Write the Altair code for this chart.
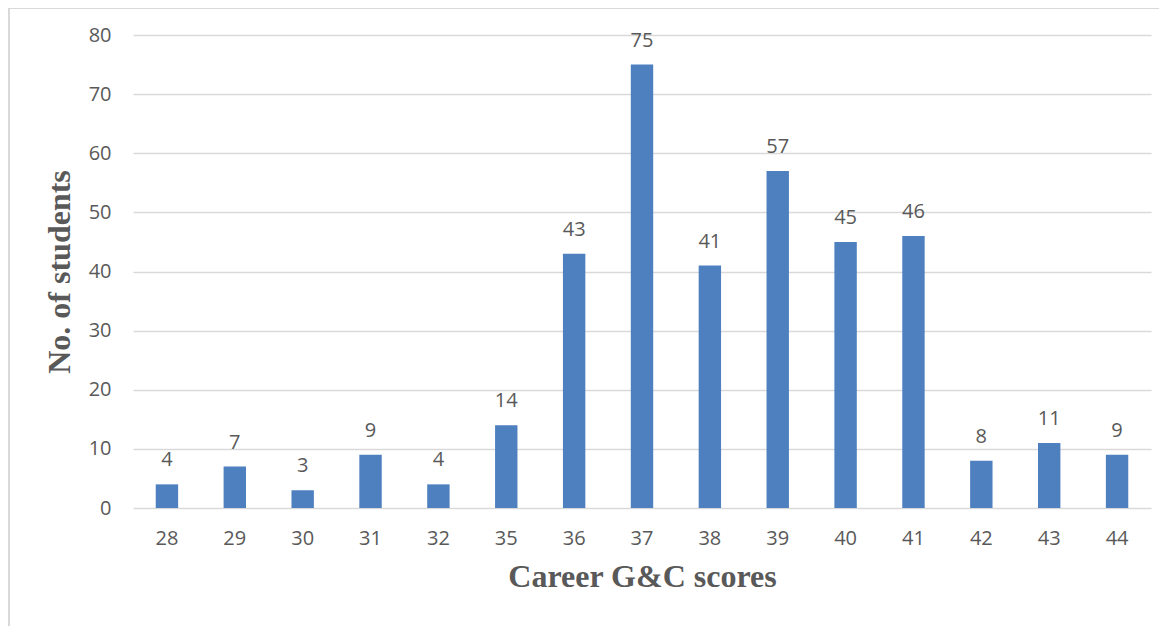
import altair as alt
import pandas as pd

scores = ["28", "29", "30", "31", "32", "35", "36", "37", "38", "39", "40", "41", "42", "43", "44"]
students = [4, 7, 3, 9, 4, 14, 43, 75, 41, 57, 45, 46, 8, 11, 9]

df = pd.DataFrame({"score": scores, "n": students})

W, H = 1018, 473
GRAY = "#595959"

base = alt.Chart(df).encode(
    x=alt.X("score:N", sort=scores, title="Career G&C scores",
            scale=alt.Scale(paddingInner=0.67, paddingOuter=0.335),
            axis=alt.Axis(labelAngle=0, domain=False, ticks=False, labelPadding=20,
                          labelFont="Open Sans", labelFontSize=20, labelColor=GRAY,
                          titleFont="Liberation Serif", titleFontSize=32, titleFontWeight="bold",
                          titleColor=GRAY, titlePadding=13)),
)

bars = base.mark_bar(color="#4e7fbf").encode(
    y=alt.Y("n:Q", title="No. of students",
            scale=alt.Scale(domain=[0, 80], nice=False),
            axis=alt.Axis(values=list(range(0, 81, 10)), domain=False, ticks=False,
                          labelPadding=22, grid=True, gridColor="#d9d9d9", gridWidth=1.6,
                          labelFont="Open Sans", labelFontSize=20, labelColor=GRAY,
                          titleFont="Liberation Serif", titleFontSize=32, titleFontWeight="bold",
                          titleColor=GRAY, titlePadding=12))
)

labels = base.mark_text(dy=-24, font="Open Sans", fontSize=20, color=GRAY).encode(
    y=alt.Y("n:Q"), text="n:Q"
)

border_left = alt.Chart(df).mark_rule(color="#d9d9d9", strokeWidth=2).encode(
    x=alt.value(-124), y=alt.value(-27), y2=alt.value(H + 140)
)
border_top = alt.Chart(df).mark_rule(color="#d9d9d9", strokeWidth=2).encode(
    x=alt.value(-124), x2=alt.value(W + 30), y=alt.value(-27)
)

chart = alt.layer(bars, labels, border_left, border_top).properties(
    width=W, height=H,
    padding={"left": 125, "top": 27, "right": 8, "bottom": 120},
    autosize=alt.AutoSizeParams(type="none"),
).configure_view(stroke=None)

chart.save("out.html", embed_options={"renderer": "svg", "actions": False})
